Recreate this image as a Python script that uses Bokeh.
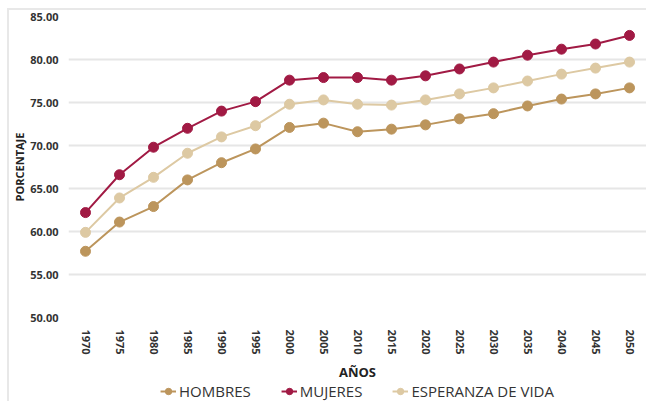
from bokeh.plotting import figure
from bokeh.layouts import column
from bokeh.models import Range1d, FixedTicker, NumeralTickFormatter, Legend, LegendItem
from bokeh.embed import file_html
from bokeh.resources import INLINE

years = [1970, 1975, 1980, 1985, 1990, 1995, 2000, 2005, 2010, 2015, 2020, 2025, 2030, 2035, 2040, 2045, 2050]
hombres = [57.7, 61.1, 62.9, 66.0, 68.0, 69.6, 72.1, 72.6, 71.6, 71.9, 72.4, 73.1, 73.7, 74.6, 75.4, 76.0, 76.7]
mujeres = [62.2, 66.6, 69.8, 72.0, 74.0, 75.1, 77.6, 77.9, 77.9, 77.6, 78.1, 78.9, 79.7, 80.5, 81.2, 81.8, 82.8]
esperanza = [59.9, 63.9, 66.3, 69.1, 71.0, 72.3, 74.8, 75.3, 74.8, 74.7, 75.3, 76.0, 76.7, 77.5, 78.3, 79.0, 79.7]
y_ticks = [50, 55, 60, 65, 70, 75, 80, 85]

C_H = "#BC955C"
C_M = "#A11A44"
C_E = "#DDC9A3"
FONT = "Open Sans"
BORDER = "2px solid #e8e8e8"

p = figure(width=639, height=373, output_backend="svg", toolbar_location=None,
           x_range=Range1d(1967.5, 2052.5), y_range=Range1d(50, 85),
           min_border_left=59, min_border_right=2, min_border_top=6, min_border_bottom=66)
p.styles = {"border-left": BORDER, "border-top": BORDER}
p.outline_line_color = None

series = [("HOMBRES", hombres, C_H), ("MUJERES", mujeres, C_M), ("ESPERANZA DE VIDA", esperanza, C_E)]
for name, vals, col in series:
    p.line(years, vals, line_color=col, line_width=2)
    p.scatter(years, vals, size=10, fill_color=col, line_color=col)

p.xgrid.grid_line_color = None
p.ygrid.grid_line_color = "#e6e6e6"
p.ygrid.grid_line_width = 2

p.yaxis.ticker = FixedTicker(ticks=y_ticks)
p.yaxis.formatter = NumeralTickFormatter(format="0.00")
p.yaxis.axis_line_color = None
p.yaxis.major_tick_line_color = None
p.yaxis.minor_tick_line_color = None
p.yaxis.major_label_text_font = FONT
p.yaxis.major_label_text_font_style = "bold"
p.yaxis.major_label_text_font_size = "11px"
p.yaxis.major_label_text_color = "#333333"
p.yaxis.major_label_standoff = 4
p.yaxis.axis_label = "PORCENTAJE"
p.yaxis.axis_label_text_font = FONT
p.yaxis.axis_label_text_font_style = "bold"
p.yaxis.axis_label_text_font_size = "11px"
p.yaxis.axis_label_text_color = "#222222"
p.yaxis.axis_label_standoff = 0

p.xaxis.ticker = FixedTicker(ticks=years)
p.xaxis.axis_line_color = None
p.xaxis.major_tick_line_color = None
p.xaxis.minor_tick_line_color = None
p.xaxis.major_label_orientation = "vertical"
p.xaxis.major_label_text_font = FONT
p.xaxis.major_label_text_font_style = "bold"
p.xaxis.major_label_text_font_size = "11px"
p.xaxis.major_label_text_color = "#333333"
p.xaxis.major_label_standoff = 6
p.xaxis.axis_label = "AÑOS"
p.xaxis.axis_label_text_font = FONT
p.xaxis.axis_label_text_font_style = "bold"
p.xaxis.axis_label_text_font_size = "13px"
p.xaxis.axis_label_text_color = "#222222"
p.xaxis.axis_label_standoff = 5

# legend strip: renderers hold the series data but lie outside this strip's ranges
q = figure(width=639, height=20, output_backend="svg", toolbar_location=None,
           x_range=Range1d(0, 1), y_range=Range1d(0, 1),
           min_border_left=59, min_border_right=2, min_border_top=0, min_border_bottom=0)
q.styles = {"border-left": BORDER}
q.outline_line_color = None
q.axis.visible = False
q.grid.visible = False
items = []
for name, vals, col in series:
    l = q.line(years, vals, line_color=col, line_width=2)
    c = q.scatter(years, vals, size=8, fill_color=col, line_color=col)
    items.append(LegendItem(label=name, renderers=[l, c]))
legend = Legend(items=items, orientation="horizontal", location="center",
                label_text_font=FONT, label_text_font_size="15px", label_text_color="#333333",
                glyph_width=16, glyph_height=16, label_height=16, label_standoff=3, spacing=30,
                padding=0, margin=0,
                border_line_color=None, background_fill_alpha=0)
q.add_layout(legend, "center")

layout = column(p, q, spacing=0, margin=(8, 0, 0, 7))
open("out.html", "w").write(file_html(layout, INLINE))
